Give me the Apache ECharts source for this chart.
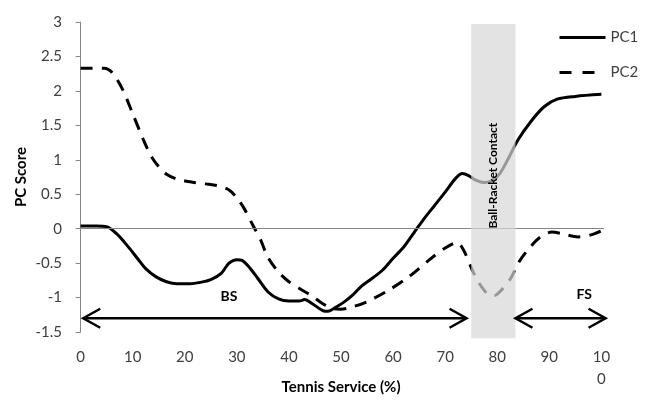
<!DOCTYPE html>
<html><head><meta charset="utf-8">
<script src="https://cdn.jsdelivr.net/npm/echarts@6/dist/echarts.min.js"></script>
<style>html,body{margin:0;padding:0;background:#fff}#c{width:661px;height:416px}</style>
</head><body><div id="c"></div>
<script>
// ---- data ----
const xTickValues = [0,10,20,30,40,50,60,70,80,90,100];
const pc1X = [0,3,5,7,9,11,12.5,14.5,16.5,18.5,21,23,25,27,28.5,30,31,32.5,34,36,38,40,42,43,44.5,46.5,47.5,49,50.5,52,54,56,58,60,62,64,66,68,70,72,73.3,74.5,76,77.5,79,80.5,82,84,86.5,89,91.5,95,100];
const pc1Y = [0.04,0.04,0.03,-0.08,-0.25,-0.44,-0.58,-0.7,-0.77,-0.8,-0.8,-0.78,-0.74,-0.65,-0.5,-0.45,-0.46,-0.57,-0.72,-0.92,-1.02,-1.05,-1.05,-1.03,-1.09,-1.19,-1.2,-1.14,-1.07,-0.98,-0.83,-0.72,-0.6,-0.43,-0.27,-0.06,0.15,0.34,0.53,0.73,0.8,0.77,0.7,0.67,0.7,0.8,1.0,1.29,1.56,1.77,1.88,1.92,1.95];
const pc2X = [0,4.5,6,8,10,12,13.5,15,16.5,18.5,21,24,26.5,28.5,30,31.5,33,34.5,36,38,40,42.5,44.5,46.5,48.5,50,52,55,59,63,67,70,72.3,73.6,75.2,76.5,78.4,79.5,80.7,82.6,84.2,86.4,88.3,90.5,92.8,95.5,98,100];
const pc2Y = [2.33,2.33,2.27,2.03,1.67,1.3,1.06,0.9,0.79,0.72,0.68,0.65,0.62,0.56,0.45,0.28,0.06,-0.15,-0.42,-0.63,-0.77,-0.89,-0.98,-1.09,-1.16,-1.17,-1.14,-1.06,-0.9,-0.7,-0.45,-0.28,-0.2,-0.32,-0.6,-0.79,-0.96,-0.97,-0.9,-0.72,-0.48,-0.26,-0.12,-0.05,-0.08,-0.12,-0.09,-0.03];
const contactBandX = [75, 83.5];
const contactBandY = [2.97, -1.59];
const contactLabel = 'Ball-Racket Contact';
const phaseArrows = [[0.5, 74.1, -1.3], [83.5, 100.8, -1.3]];
const phaseLabels = [['BS', 28.5, -0.98], ['FS', 96.7, -0.95]];

const FONT = 'Lato, "Open Sans", sans-serif';
const zip = (xs, ys) => xs.map((x, i) => [x, ys[i]]);

const chart = echarts.init(document.getElementById('c'), null, {renderer: 'canvas'});
chart.setOption({
  animation: false,
  backgroundColor: '#fff',
  grid: {left: 78, top: 22, width: 526, height: 310},
  legend: {
    data: [
      {name: 'PC1', lineStyle: {width: 3, color: '#000', type: 'solid'}},
      {name: 'PC2', lineStyle: {width: 3, color: '#000', type: [12, 11]}}
    ],
    orient: 'vertical', left: 553, top: 25,
    itemWidth: 46, itemHeight: 14, itemGap: 20,
    itemStyle: {opacity: 0, borderWidth: 0},
    textStyle: {fontSize: 15, color: '#404040', fontFamily: FONT}
  },
  xAxis: {
    type: 'value', min: -0.5, max: 100.5,
    name: 'Tennis Service (%)', nameLocation: 'middle', nameGap: 48, nameMoveOverlap: false,
    nameTextStyle: {fontSize: 15, fontWeight: 'bold', color: '#000', fontFamily: FONT},
    axisLine: {show: false}, axisTick: {show: false}, splitLine: {show: false},
    axisLabel: {
      customValues: xTickValues, margin: 14, fontSize: 15, color: '#404040', fontFamily: FONT, lineHeight: 22,
      formatter: v => v === 100 ? '10\n0' : String(v)
    }
  },
  yAxis: {
    type: 'value', min: -1.5, max: 3, interval: 0.5,
    name: 'PC Score', nameLocation: 'middle', nameGap: 49, nameMoveOverlap: false,
    nameTextStyle: {fontSize: 15, fontWeight: 'bold', color: '#000', fontFamily: FONT},
    axisLine: {show: true, lineStyle: {color: '#868686', width: 1}},
    axisTick: {show: true, length: 5, lineStyle: {color: '#868686'}},
    splitLine: {show: false},
    axisLabel: {margin: 16, fontSize: 15, color: '#404040', fontFamily: FONT}
  },
  series: [
    {
      name: 'PC1', type: 'line', data: zip(pc1X, pc1Y), symbol: 'none', smooth: 0.3, z: 2,
      lineStyle: {color: '#000', width: 3}, itemStyle: {color: '#000'},
      markLine: {silent: true, symbol: 'none', label: {show: false},
        lineStyle: {color: '#868686', width: 1, type: 'solid'}, data: [{yAxis: 0}]}
    },
    {
      name: 'PC2', type: 'line', data: zip(pc2X, pc2Y), symbol: 'none', smooth: 0.3, z: 2,
      lineStyle: {color: '#000', width: 3, type: [12, 9]}, itemStyle: {color: '#000'}
    },
    {
      name: 'band', type: 'custom', z: 5, silent: true,
      data: [[contactBandX[0], contactBandX[1], contactBandY[0], contactBandY[1]]],
      renderItem: (params, api) => {
        const p0 = api.coord([api.value(0), api.value(2)]);
        const p1 = api.coord([api.value(1), api.value(3)]);
        const mid = api.coord([(api.value(0) + api.value(1)) / 2, 0.77]);
        return {type: 'group', children: [
          {type: 'rect', shape: {x: p0[0], y: p0[1], width: p1[0] - p0[0], height: p1[1] - p0[1]},
            style: {fill: 'rgba(215,215,215,0.7)'}},
          {type: 'text', x: mid[0], y: mid[1], rotation: Math.PI / 2,
            style: {text: contactLabel, fill: '#000', font: 'bold 12px ' + FONT, align: 'center', verticalAlign: 'middle'}}
        ]};
      }
    },
    {
      name: 'arrows', type: 'custom', z: 6, silent: true,
      data: phaseArrows,
      renderItem: (params, api) => {
        const a = api.coord([api.value(0), api.value(2)]);
        const b = api.coord([api.value(1), api.value(2)]);
        const L = 17, H = 9.5;
        const st = {stroke: '#000', lineWidth: 2.5, fill: 'none'};
        return {type: 'group', children: [
          {type: 'line', shape: {x1: a[0], y1: a[1], x2: b[0], y2: b[1]}, style: st},
          {type: 'polyline', shape: {points: [[a[0] + L, a[1] - H], [a[0], a[1]], [a[0] + L, a[1] + H]]}, style: st},
          {type: 'polyline', shape: {points: [[b[0] - L, b[1] - H], [b[0], b[1]], [b[0] - L, b[1] + H]]}, style: st}
        ]};
      }
    },
    {
      name: 'phases', type: 'custom', z: 6, silent: true,
      data: phaseLabels.map(d => [d[1], d[2], d[0]]),
      dimensions: ['x', 'y', {name: 'label', type: 'ordinal'}],
      renderItem: (params, api) => {
        const p = api.coord([api.value(0), api.value(1)]);
        return {type: 'text', x: p[0], y: p[1],
          style: {text: phaseLabels[params.dataIndex][0], fill: '#000', font: 'bold 14px ' + FONT, align: 'center', verticalAlign: 'middle'}};
      }
    }
  ]
});
</script></body></html>
